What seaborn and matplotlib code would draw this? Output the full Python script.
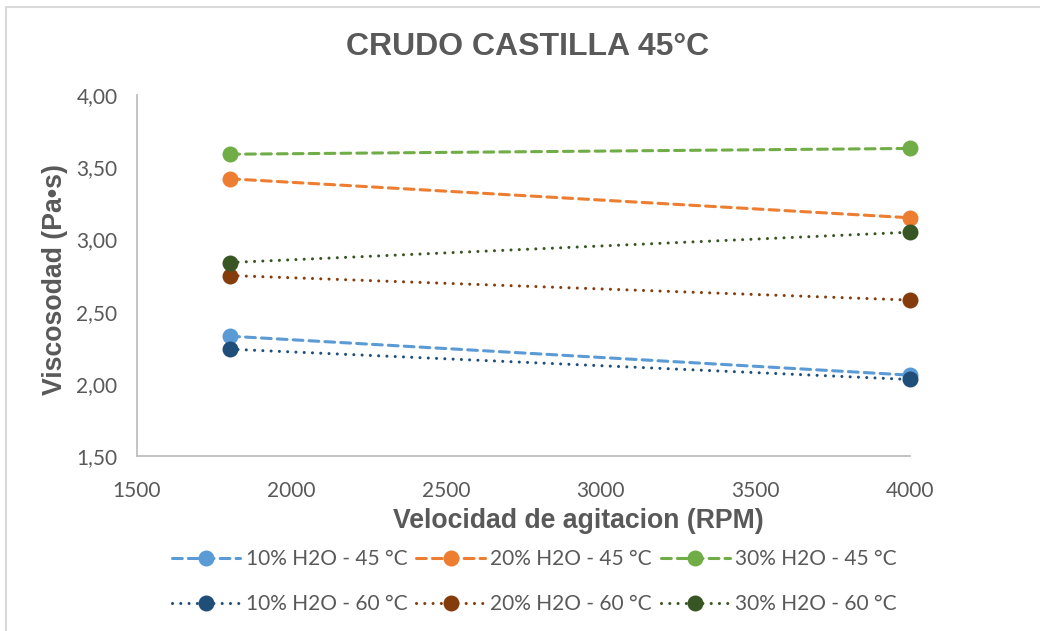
import matplotlib
matplotlib.use("Agg")
import matplotlib.pyplot as plt
from matplotlib.patches import Rectangle
import seaborn as sns
import pandas as pd

# Agitation speeds (RPM)
rpm = [1800, 4000]

# Viscosity (Pa·s) per water content and temperature
h2o10_45 = [2.33, 2.06]
h2o20_45 = [3.42, 3.15]
h2o30_45 = [3.59, 3.63]
h2o10_60 = [2.24, 2.03]
h2o20_60 = [2.75, 2.58]
h2o30_60 = [2.84, 3.05]

series_labels = [
    "10% H2O - 45 °C", "20% H2O - 45 °C", "30% H2O - 45 °C",
    "10% H2O - 60 °C", "20% H2O - 60 °C", "30% H2O - 60 °C",
]
series_values = [h2o10_45, h2o20_45, h2o30_45, h2o10_60, h2o20_60, h2o30_60]
series_colors = ["#5B9BD5", "#ED7D31", "#70AD47", "#1F4E79", "#843C0C", "#375623"]

x_ticks = [1500, 2000, 2500, 3000, 3500, 4000]
y_ticks = [1.5, 2.0, 2.5, 3.0, 3.5, 4.0]

sns.set_theme(style="white")
plt.rcParams["font.family"] = ["Lato", "DejaVu Sans"]

grey = "#595959"
fig = plt.figure(figsize=(10.4, 6.31), dpi=100)
ax = fig.add_axes([0.1317, 0.2773, 0.7433, 0.5721])

handles = {}
for label, vals, col in zip(series_labels, series_values, series_colors):
    df = pd.DataFrame({"rpm": rpm, "visc": vals})
    dashed = "45" in label
    sns.lineplot(data=df, x="rpm", y="visc", ax=ax, color=col, linewidth=2.2,
                 marker="o", markersize=11.5, markeredgewidth=0,
                 label=label, legend=False, sort=False)
    line = ax.get_lines()[-1]
    line.set_clip_on(False)
    if dashed:
        line.set_dashes((3.2, 2.0))
    else:
        line.set_dashes((0.01, 2.7))
    line.set_dash_capstyle("round")
    handles[label] = line

ax.set_xlim(1500, 4000)
ax.set_ylim(1.5, 4.0)
ax.set_xticks(x_ticks)
ax.set_yticks(y_ticks)
ax.set_yticklabels([f"{v:.2f}".replace(".", ",") for v in y_ticks])
ax.tick_params(axis="both", length=0, labelsize=15, colors=grey)
ax.tick_params(axis="x", pad=18)
ax.tick_params(axis="y", pad=14)

for side in ["top", "right"]:
    ax.spines[side].set_visible(False)
for side in ["left", "bottom"]:
    ax.spines[side].set_color("#BFBFBF")
    ax.spines[side].set_linewidth(1.3)

ax.set_xlabel("Velocidad de agitacion (RPM)", fontsize=19.2, fontweight="bold",
              color=grey, family="Liberation Sans")
ax.set_ylabel("Viscosodad (Pa•s)", fontsize=19.2, fontweight="bold",
              color=grey, family="Liberation Sans")
ax.xaxis.set_label_coords((578 - 137) / 773, -(521 - 456) / 361)
ax.yaxis.set_label_coords(-(137 - 55) / 773, (456 - 279) / 361)
ax.xaxis.label.set_va("center")
ax.yaxis.label.set_va("center")

fig.text(527.5 / 1040, 1 - 47 / 631, "CRUDO CASTILLA 45°C", ha="center", va="center",
         fontsize=23, fontweight="bold", color=grey, family="Liberation Sans")

# legend fills column by column: pair each 45 °C entry with its 60 °C entry
order = [0, 3, 1, 4, 2, 5]
leg = fig.legend([handles[series_labels[i]] for i in order],
                 [series_labels[i] for i in order],
                 loc="center", bbox_to_anchor=(0.5135, 0.078), ncol=3,
                 frameon=False, fontsize=15, handlelength=3.3,
                 handletextpad=0.25, columnspacing=0.43, labelspacing=1.2)
for t in leg.get_texts():
    t.set_color(grey)

# chart frame
fig.patches.append(Rectangle((6 / 1040, -0.1), 1.2, 1.1 - 7 / 631,
                             transform=fig.transFigure, fill=False,
                             edgecolor="#D9D9D9", linewidth=1.5, zorder=0))

fig.savefig("out.png", dpi=100)
